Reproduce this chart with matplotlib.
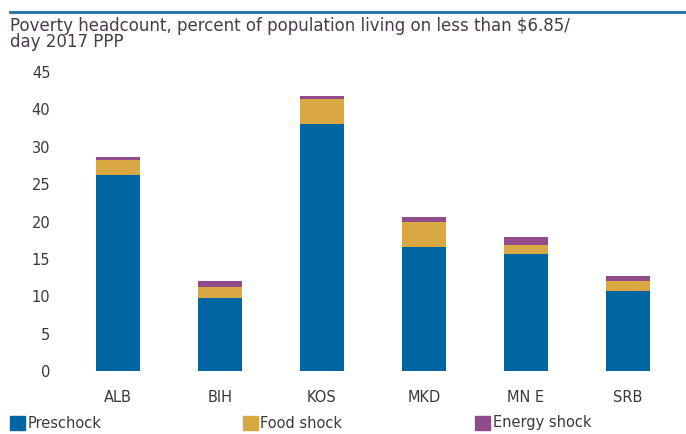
import numpy as np
import matplotlib.pyplot as plt
from matplotlib.lines import Line2D
from matplotlib.patches import Patch

# values (in axis position units)
countries = ['ALB', 'BIH', 'KOS', 'MKD', 'MN E', 'SRB']
preshock = [26.2, 9.7, 33.1, 16.6, 15.6, 10.7]
food_shock = [2.0, 1.6, 3.3, 3.3, 1.3, 1.3]
energy_shock = [0.4, 0.7, 0.4, 0.7, 1.0, 0.7]

# the original axis skips 35
ytick_pos = [0, 5, 10, 15, 20, 25, 30, 35, 40]
ytick_labels = ['0', '5', '10', '15', '20', '25', '30', '40', '45']

blue = '#0066a1'
gold = '#daa843'
purple = '#8f4b8a'
text_col = '#3a3a3a'

plt.rcParams['font.family'] = ['DejaVu Sans']

fig = plt.figure(figsize=(6.86, 4.34), dpi=100)
ax = fig.add_axes([67 / 686, 1 - 371 / 434, 612 / 686, 299 / 434])

x = np.arange(len(countries))
w = 0.43
pre = np.array(preshock)
food = np.array(food_shock)
ax.bar(x, pre, width=w, color=blue)
ax.bar(x, food, width=w, bottom=pre, color=gold)
ax.bar(x, energy_shock, width=w, bottom=pre + food, color=purple)

ax.set_xlim(-0.5, len(countries) - 0.5)
ax.set_ylim(0, 40)
ax.set_yticks(ytick_pos)
ax.set_yticklabels(ytick_labels)
ax.set_xticks(x)
ax.set_xticklabels(countries)
ax.tick_params(axis='both', length=0, labelsize=10.5, colors=text_col)
ax.tick_params(axis='x', pad=14)
ax.tick_params(axis='y', pad=12)
for s in ax.spines.values():
    s.set_visible(False)

# top rule and title
fig.add_artist(Line2D([10 / 686, 1], [1 - 12 / 434] * 2, color='#1f6fa8', lw=2))
fig.text(10 / 686, 1 - 17 / 434,
         'Poverty headcount, percent of population living on less than $6.85/\nday 2017 PPP',
         ha='left', va='top', fontsize=12, color='#4a3a4a', linespacing=0.85)

handles = [Patch(color=blue), Patch(color=gold), Patch(color=purple)]
names = ['Preschock', 'Food shock', 'Energy shock']
for h, n, xp in zip(handles, names, [10, 243, 475]):
    fig.legend([h], [n], loc='center left', bbox_to_anchor=(xp / 686, 1 - 423 / 434),
               frameon=False, fontsize=10.5, handlelength=1.0, handleheight=1.1,
               handletextpad=0.2, borderpad=0, borderaxespad=0, labelcolor=text_col)

fig.savefig('out.png', dpi=100)
